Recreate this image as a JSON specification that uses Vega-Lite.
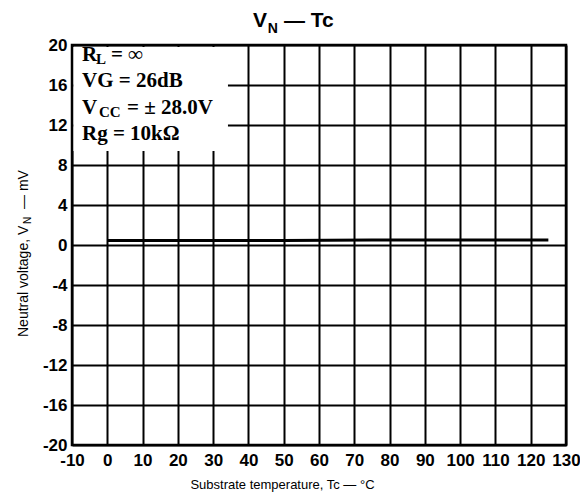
{
  "$schema": "https://vega.github.io/schema/vega-lite/v6.json",
  "width": 494,
  "height": 400,
  "autosize": {"type": "none"},
  "padding": {"left": 72, "top": 45, "right": 14, "bottom": 53},
  "background": "white",
  "config": {
    "view": {"stroke": "black", "strokeWidth": 2.5},
    "axis": {
      "grid": true,
      "gridColor": "black",
      "gridWidth": 2,
      "gridOpacity": 1,
      "domain": false,
      "ticks": false,
      "zindex": 0,
      "tickCount": 30,
      "labelColor": "black",
      "labelFont": "Liberation Sans Narrow, Liberation Sans",
      "labelFontWeight": "bold",
      "labelFontSize": 17,
      "labelOverlap": false,
      "labelFlush": false
    }
  },
  "datasets": {
    "series": [
      {"tc": 0, "vn": 0.45},
      {"tc": 25, "vn": 0.45},
      {"tc": 50, "vn": 0.45},
      {"tc": 75, "vn": 0.5},
      {"tc": 100, "vn": 0.5},
      {"tc": 125, "vn": 0.5}
    ],
    "box": [
      {"x1": -9.6, "x2": 34.2, "y1": 9.4, "y2": 19.8}
    ],
    "notes": [
      {"role": "legend", "t": "R", "x": -7.17, "y": 18.4},
      {"role": "legendsub", "t": "L", "x": -3.2, "y": 18.4},
      {"role": "legend", "t": "= ∞", "x": 1.05, "y": 18.4},
      {"role": "legend", "t": "VG = 26dB", "x": -7.17, "y": 15.8},
      {"role": "legend", "t": "V", "x": -7.17, "y": 13.1},
      {"role": "legendsub", "t": "CC", "x": -2.35, "y": 13.1},
      {"role": "legend", "t": "= ± 28.0V", "x": 5.58, "y": 13.1},
      {"role": "legend", "t": "Rg = 10kΩ", "x": -7.17, "y": 10.5},
      {"role": "title", "t": "V", "x": 41.27, "y": 21.8},
      {"role": "titlesub", "t": "N", "x": 45.5, "y": 21.8},
      {"role": "title", "t": "— Tc", "x": 50.06, "y": 21.8},
      {"role": "ytitle", "t": "Neutral voltage, V", "x": -22.46, "y": -9.2},
      {"role": "ytitlesub", "t": "N", "x": -22.46, "y": 2.1},
      {"role": "ytitle", "t": "—  mV", "x": -22.46, "y": 3.6}
    ]
  },
  "layer": [
    {
      "data": {"name": "series"},
      "mark": {"type": "line", "color": "black", "strokeWidth": 3},
      "encoding": {
        "x": {
          "field": "tc",
          "type": "quantitative",
          "scale": {"domain": [-10, 130], "nice": false, "zero": false},
          "axis": {
            "values": [-10, 0, 10, 20, 30, 40, 50, 60, 70, 80, 90, 100, 110, 120, 130],
            "tickCount": 30,
            "labelExpr": "datum.value < 0 ? '-' + (-datum.value) : '' + datum.value",
            "labelPadding": 7,
            "title": "Substrate temperature, Tc — °C",
            "titleFont": "Liberation Sans",
            "titleFontSize": 13,
            "titleFontWeight": "normal",
            "titleColor": "black",
            "titleX": 210,
            "titleY": 43,
            "titleAlign": "center",
            "titleBaseline": "alphabetic"
          }
        },
        "y": {
          "field": "vn",
          "type": "quantitative",
          "scale": {"domain": [-20, 20], "nice": false, "zero": false},
          "axis": {
            "values": [-20, -16, -12, -8, -4, 0, 4, 8, 12, 16, 20],
            "tickCount": 30,
            "labelExpr": "datum.value < 0 ? '-' + (-datum.value) : '' + datum.value",
            "labelPadding": 5,
            "title": null
          }
        }
      }
    },
    {
      "data": {"name": "box"},
      "mark": {"type": "rect", "fill": "white", "strokeWidth": 0},
      "encoding": {
        "x": {"field": "x1", "type": "quantitative"},
        "x2": {"field": "x2"},
        "y": {"field": "y1", "type": "quantitative"},
        "y2": {"field": "y2"}
      }
    },
    {
      "data": {"name": "notes"},
      "transform": [{"filter": "datum.role === 'legend'"}],
      "mark": {"type": "text", "align": "left", "baseline": "alphabetic", "font": "Liberation Serif", "fontSize": 21, "fontWeight": "bold", "color": "black"},
      "encoding": {
        "x": {"field": "x", "type": "quantitative"},
        "y": {"field": "y", "type": "quantitative"},
        "text": {"field": "t"}
      }
    },
    {
      "data": {"name": "notes"},
      "transform": [{"filter": "datum.role === 'legendsub'"}],
      "mark": {"type": "text", "align": "left", "baseline": "alphabetic", "dy": 3, "font": "Liberation Serif", "fontSize": 15, "fontWeight": "bold", "color": "black"},
      "encoding": {
        "x": {"field": "x", "type": "quantitative"},
        "y": {"field": "y", "type": "quantitative"},
        "text": {"field": "t"}
      }
    },
    {
      "data": {"name": "notes"},
      "transform": [{"filter": "datum.role === 'title'"}],
      "mark": {"type": "text", "align": "left", "baseline": "alphabetic", "font": "Liberation Sans", "fontSize": 21, "fontWeight": "bold", "color": "black"},
      "encoding": {
        "x": {"field": "x", "type": "quantitative"},
        "y": {"field": "y", "type": "quantitative"},
        "text": {"field": "t"}
      }
    },
    {
      "data": {"name": "notes"},
      "transform": [{"filter": "datum.role === 'titlesub'"}],
      "mark": {"type": "text", "align": "left", "baseline": "alphabetic", "dy": 6, "font": "Liberation Sans", "fontSize": 14, "fontWeight": "bold", "color": "black"},
      "encoding": {
        "x": {"field": "x", "type": "quantitative"},
        "y": {"field": "y", "type": "quantitative"},
        "text": {"field": "t"}
      }
    },
    {
      "data": {"name": "notes"},
      "transform": [{"filter": "datum.role === 'ytitle'"}],
      "mark": {"type": "text", "align": "left", "baseline": "alphabetic", "angle": 270, "font": "Liberation Sans", "fontSize": 14, "color": "black"},
      "encoding": {
        "x": {"field": "x", "type": "quantitative"},
        "y": {"field": "y", "type": "quantitative"},
        "text": {"field": "t"}
      }
    },
    {
      "data": {"name": "notes"},
      "transform": [{"filter": "datum.role === 'ytitlesub'"}],
      "mark": {"type": "text", "align": "left", "baseline": "alphabetic", "angle": 270, "dy": 3, "font": "Liberation Sans", "fontSize": 10, "color": "black"},
      "encoding": {
        "x": {"field": "x", "type": "quantitative"},
        "y": {"field": "y", "type": "quantitative"},
        "text": {"field": "t"}
      }
    }
  ]
}
